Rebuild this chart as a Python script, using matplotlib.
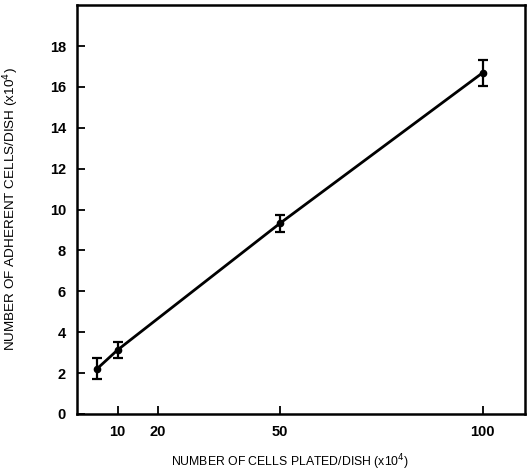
import matplotlib
matplotlib.use("Agg")
import matplotlib.pyplot as plt
import numpy as np

plt.rcParams['font.family'] = ['Liberation Sans', 'DejaVu Sans']

cells_plated = [5, 10, 50, 100]
adherent = [2.22, 3.13, 9.32, 16.69]
err = [0.53, 0.38, 0.41, 0.63]
x_ticks = [10, 20, 50, 100]
y_ticks = [0, 2, 4, 6, 8, 10, 12, 14, 16, 18]

fig = plt.figure(figsize=(5.31, 4.72), dpi=100)
ax = fig.add_axes([0.145, 0.123, 0.844, 0.866])

ax.plot(cells_plated, adherent, color='black', lw=2.0, solid_capstyle='butt')
ax.errorbar(cells_plated, adherent, yerr=err, fmt='o', color='black', ms=4.5,
            ecolor='black', elinewidth=1.6, capsize=3.5, capthick=1.6)

ax.set_xlim(0, 110.5)
ax.set_ylim(0, 20)
ax.set_xticks(x_ticks)
ax.set_yticks(y_ticks)
ax.tick_params(direction='in', length=6, width=1.3, labelsize=10.5, pad=8)
for lbl in ax.get_xticklabels() + ax.get_yticklabels():
    lbl.set_fontweight('bold')
for s in ax.spines.values():
    s.set_linewidth(1.8)

ax.set_xlabel(r'NUMBER OF CELLS PLATED/DISH (x10$^{4}$)', fontsize=8.8)
ax.set_ylabel(r'NUMBER OF ADHERENT CELLS/DISH (x10$^{4}$)', fontsize=9.7)
ax.xaxis.set_label_coords(0.476, -0.095)
ax.yaxis.set_label_coords(-0.125, 0.5)

fig.savefig('out.png', dpi=100)
